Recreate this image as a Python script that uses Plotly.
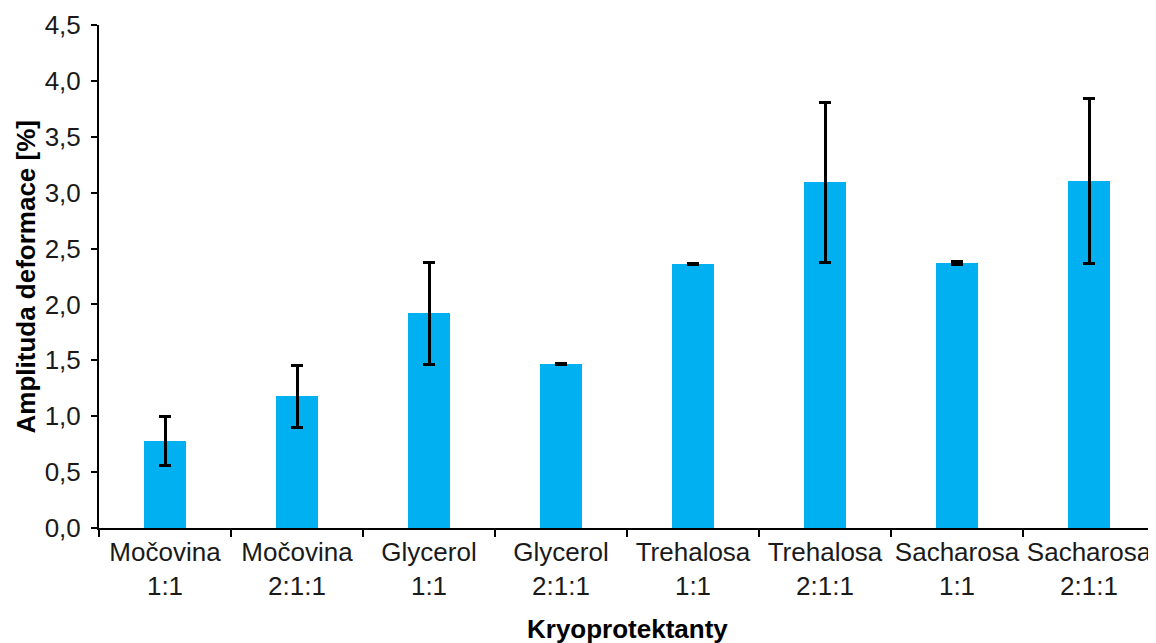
import plotly.graph_objects as go

categories = ["Močovina<br>1:1", "Močovina<br>2:1:1", "Glycerol<br>1:1", "Glycerol<br>2:1:1",
              "Trehalosa<br>1:1", "Trehalosa<br>2:1:1", "Sacharosa<br>1:1", "Sacharosa<br>2:1:1"]
values = [0.776, 1.179, 1.92, 1.466, 2.361, 3.094, 2.373, 3.108]
errors = [0.218, 0.278, 0.457, 0.004, 0.008, 0.716, 0.015, 0.738]
y_ticks = [0, 0.5, 1.0, 1.5, 2.0, 2.5, 3.0, 3.5, 4.0, 4.5]
y_tick_labels = ["0,0", "0,5", "1,0", "1,5", "2,0", "2,5", "3,0", "3,5", "4,0", "4,5"]
x_title = "Kryoprotektanty"
y_title = "Amplituda deformace [%]"

FONT = "Liberation Sans, Arial, sans-serif"
FS = 26

fig = go.Figure(go.Bar(
    x=categories, y=values,
    marker=dict(color="#00B0F0", line=dict(width=0)),
    width=0.32,
    error_y=dict(type="data", array=errors, visible=True, color="black", thickness=3, width=6),
))

# page body has an 8px default margin, so the figure is sized/offset to compensate
fig.update_layout(
    width=1148, height=635,
    margin=dict(l=91, r=1, t=17, b=115),
    paper_bgcolor="white", plot_bgcolor="white",
    font=dict(family=FONT, size=FS, color="black"),
    showlegend=False,
    bargap=0,
    annotations=[
        dict(text="<b>" + x_title + "</b>", xref="paper", yref="paper", x=0.5, y=0,
             xanchor="center", yanchor="middle", yshift=-101, showarrow=False,
             font=dict(family=FONT, size=FS, color="black")),
        dict(text="<b>" + y_title + "</b>", xref="paper", yref="paper", x=0, y=0.5,
             xanchor="center", yanchor="middle", xshift=-74, textangle=-90, showarrow=False,
             font=dict(family=FONT, size=FS, color="black")),
    ],
)
fig.update_xaxes(
    automargin=False, tickangle=0,
    showline=True, linecolor="black", linewidth=2,
    ticks="outside", tickson="boundaries", ticklen=7, tickwidth=2, tickcolor="black",
    tickfont=dict(family=FONT, size=FS, color="#1a1a1a"),
    showgrid=False, zeroline=False,
)
fig.update_yaxes(
    automargin=False,
    range=[0, 4.5], tickvals=y_ticks, ticktext=y_tick_labels,
    showline=True, linecolor="black", linewidth=2,
    ticks="outside", ticklen=6, tickwidth=2, tickcolor="black", ticklabelstandoff=5,
    tickfont=dict(family=FONT, size=FS, color="#1a1a1a"),
    showgrid=False, zeroline=False,
)

fig.write_html("out.html")
